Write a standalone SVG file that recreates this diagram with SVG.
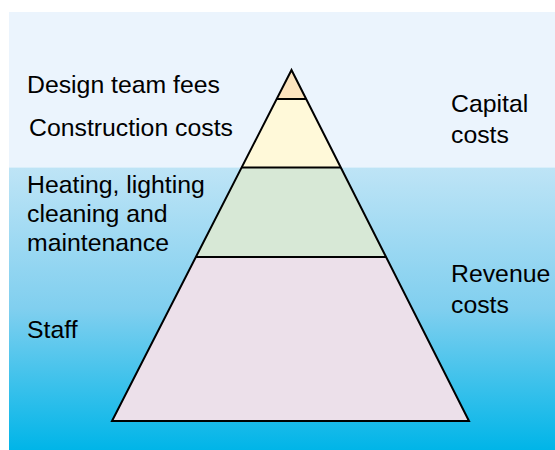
<svg xmlns="http://www.w3.org/2000/svg" width="555" height="450" viewBox="0 0 555 450">
  <defs>
    <linearGradient id="revGrad" x1="0" y1="0" x2="0" y2="1">
      <stop offset="0" stop-color="#BEE4F6"/>
      <stop offset="0.5" stop-color="#80CFEF"/>
      <stop offset="1" stop-color="#00B5E8"/>
    </linearGradient>
  </defs>
  <style>
    .lbl { font-family: "Liberation Sans", Arial, sans-serif; font-size: 24.8px; fill: #000; }
    .band { stroke: none; }
    .edge { fill: none; stroke: #000; stroke-width: 2; stroke-linejoin: miter; }
  </style>
  <rect x="0" y="0" width="555" height="450" fill="#FFFFFF"/>
  <g id="capital-zone">
    <rect x="9" y="12" width="546" height="155.5" fill="#EBF4FD"/>
  </g>
  <g id="revenue-zone">
    <rect x="9" y="167.5" width="546" height="282.5" fill="url(#revGrad)"/>
  </g>
  <g id="band-design">
    <polygon class="band" points="291.5,70 306.2,99 276.7,99" fill="#FBE3BE"/>
  </g>
  <g id="band-construction">
    <polygon class="band" points="276.7,99 306.2,99 340.8,167.5 241.6,167.5" fill="#FFF9D9"/>
  </g>
  <g id="band-running">
    <polygon class="band" points="241.6,167.5 340.8,167.5 386.1,257 195.9,257" fill="#D7E8D6"/>
  </g>
  <g id="band-staff">
    <polygon class="band" points="195.9,257 386.1,257 469,421 112,421" fill="#ECE0EA"/>
  </g>
  <g id="connectors">
    <polygon class="edge" points="291.5,70 469,421 112,421"/>
    <line class="edge" x1="276.7" y1="99" x2="306.2" y2="99"/>
    <line class="edge" x1="241.6" y1="167.5" x2="340.8" y2="167.5"/>
    <line class="edge" x1="195.9" y1="257" x2="386.1" y2="257"/>
  </g>
  <g id="labels">
    <text class="lbl" x="27" y="92.5">Design team fees</text>
    <text class="lbl" x="29" y="136">Construction costs</text>
    <text class="lbl" x="451" y="111.5">Capital</text>
    <text class="lbl" x="451" y="142.5">costs</text>
    <text class="lbl" x="27" y="193">Heating, lighting</text>
    <text class="lbl" x="27" y="222">cleaning and</text>
    <text class="lbl" x="27" y="251">maintenance</text>
    <text class="lbl" x="451" y="282">Revenue</text>
    <text class="lbl" x="451" y="312.5">costs</text>
    <text class="lbl" x="27" y="337.5">Staff</text>
  </g>
</svg>
